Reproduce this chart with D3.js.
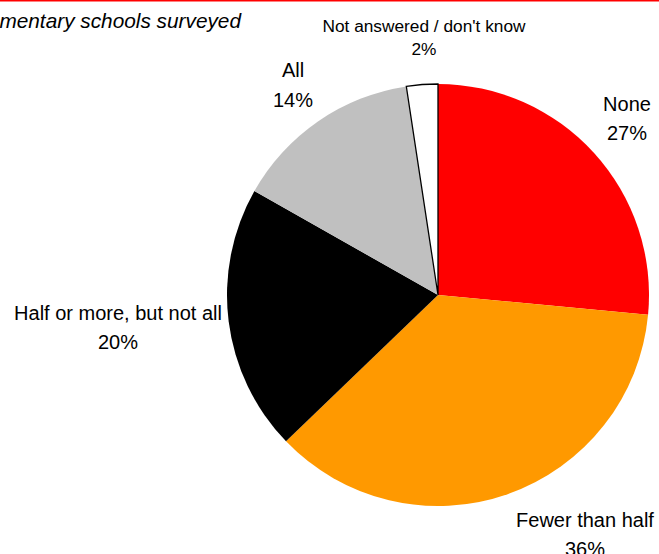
<!DOCTYPE html>
<html><head><meta charset="utf-8">
<script src="https://cdn.jsdelivr.net/npm/d3@7"></script>
<style>body{margin:0;background:#fff}svg{display:block}text{font-family:"Liberation Sans",Arial,sans-serif;fill:#000}</style>
</head><body>
<script>
const categories = ["None", "Fewer than half", "Half or more, but not all", "All", "Not answered / don't know"];
const values = [26.5, 36.3, 20.4, 14.4, 2.4];
const pctLabels = ["27%", "36%", "20%", "14%", "2%"];
const colors = ["#ff0000", "#ff9900", "#000000", "#c0c0c0", "#ffffff"];
const title = "Percentage of elementary schools surveyed";

const W = 659, H = 554;
const svg = d3.select("body").append("svg").attr("width", W).attr("height", H);

svg.append("line").attr("x1", 0).attr("x2", W).attr("y1", 0.5).attr("y2", 0.5)
  .attr("stroke", "#ff0000").attr("stroke-width", 2);

svg.append("text").attr("x", 241).attr("y", 28).attr("text-anchor", "end")
  .attr("font-size", 20.8).attr("font-style", "italic").text(title);

const cx = 438, cy = 295, r = 211;
const pie = d3.pie().sort(null).value(d => d)(values);
const arc = d3.arc().innerRadius(0).outerRadius(r);
const g = svg.append("g").attr("transform", `translate(${cx},${cy})`);
g.selectAll("path").data(pie).join("path")
  .attr("d", arc)
  .attr("fill", (d, i) => colors[i])
  .attr("stroke", (d, i) => i === 4 ? "#000" : "none")
  .attr("stroke-width", 1.3);

const labelPos = [[627, 111], [585, 527], [118, 320], [293, 77], [424, 32]];
const fontSizes = [20, 20, 20, 20, 17.3];
const lineGap = [29, 29, 29, 30, 23];
categories.forEach((c, i) => {
  const t = svg.append("text").attr("text-anchor", "middle").attr("font-size", fontSizes[i]);
  t.append("tspan").attr("x", labelPos[i][0]).attr("y", labelPos[i][1]).text(c);
  t.append("tspan").attr("x", labelPos[i][0]).attr("y", labelPos[i][1] + lineGap[i]).text(pctLabels[i]);
});
</script>
</body></html>
